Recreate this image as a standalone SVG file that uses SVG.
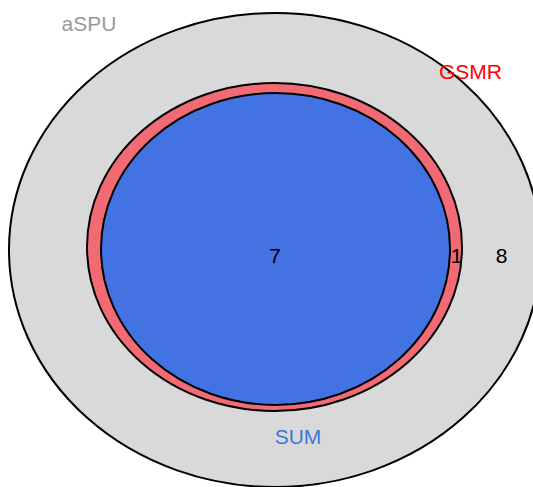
<svg xmlns="http://www.w3.org/2000/svg" width="533" height="487" viewBox="0 0 533 487">
<style>
.set{stroke:#000;stroke-width:2}
.t{font-family:"Liberation Sans",Arial,sans-serif;font-size:21px;text-anchor:middle}
</style>
<rect width="533" height="487" fill="#fff"/>
<g id="aSPU">
<ellipse class="set" cx="275" cy="250" rx="266" ry="237" fill="#D9D9D9"/>
<text class="t" x="89" y="31" fill="#999999">aSPU</text>
</g>
<g id="GSMR">
<ellipse class="set" cx="274.5" cy="247" rx="187.5" ry="164" fill="#F26A74"/>
<text class="t" x="470.5" y="79" fill="#FF0000">GSMR</text>
</g>
<g id="SUM">
<ellipse class="set" cx="275.5" cy="249" rx="174.5" ry="156" fill="#4373E3"/>
<text class="t" x="298" y="444" fill="#3C78D8">SUM</text>
</g>
<g id="counts">
<text class="t" x="275" y="263" fill="#000">7</text>
<text class="t" x="456.5" y="263" fill="#000">1</text>
<text class="t" x="501.5" y="263" fill="#000">8</text>
</g>
<g id="connectors"/>
</svg>
